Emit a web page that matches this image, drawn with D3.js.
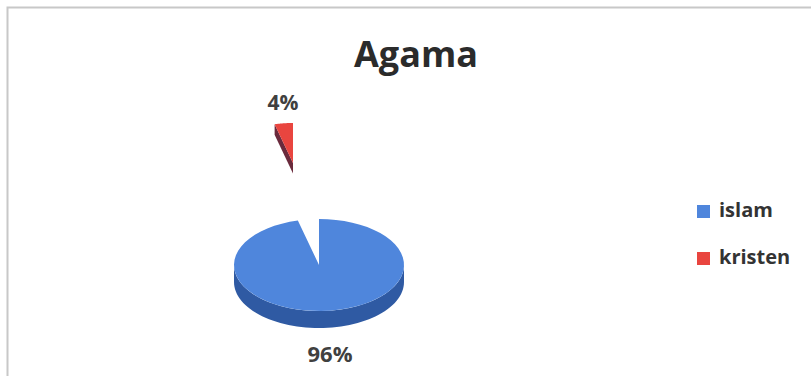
<!DOCTYPE html>
<html><head><meta charset="utf-8">
<script src="https://cdn.jsdelivr.net/npm/d3@7"></script>
<style>body{margin:0;background:#fff}svg{display:block}</style>
</head><body><svg id="c" width="811" height="376"></svg>
<script>
const categories = ["islam", "kristen"];
const values = [96, 4];
const labels = ["96%", "4%"];
const topColors = ["#4f86dc", "#e9453f"];
const sideColors = ["#2f5aa3", "#6a2a3c"];
const title = "Agama";

const svg = d3.select("#c");
const font = "'Open Sans', Lato, sans-serif";

// frame
svg.append("path").attr("d", "M7.5,376 L7.5,7.5 L811,7.5").attr("fill","none").attr("stroke","#c8c8c8").attr("stroke-width",2);

svg.append("text").attr("x", 416).attr("y", 67).attr("text-anchor","middle")
  .attr("font-family", font).attr("font-weight", 700).attr("font-size", 36).attr("fill", "#2b2b2b").text(title);

const cx = 319, cy = 265, rx = 85, ry = 46, depth = 17;
const pie = d3.pie().sort(null).value(d => d)(values);
const pt = a => [rx * Math.sin(a), -ry * Math.cos(a)];
const line = d3.line();
const offsets = [[0, 0], [-26, -102]];
const scales = [1, 0.87];
const depths = [depth, 12];

function sample(a0, a1, n = 60) {
  return d3.range(n + 1).map(i => a0 + (a1 - a0) * i / n);
}

pie.forEach((s, i) => {
  const [ox, oy] = offsets[i];
  const g = svg.append("g").attr("transform", `translate(${cx + ox},${cy + oy}) scale(${scales[i]})`);
  const d = depths[i];
  let a0 = s.startAngle, a1 = s.endAngle;
  if (i === 1) { a0 -= 2 * Math.PI; a1 -= 2 * Math.PI; }
  const front0 = Math.max(a0, Math.PI / 2), front1 = Math.min(a1, 3 * Math.PI / 2);
  if (front1 > front0) {
    const arcTop = sample(front0, front1).map(pt);
    const arcBot = arcTop.slice().reverse().map(p => [p[0], p[1] + d]);
    g.append("path").attr("d", line(arcTop.concat(arcBot)) + "Z").attr("fill", sideColors[i]);
  }
  if (i === 1) {
    const p = pt(a0);
    g.append("path").attr("d", line([[0,0], p, [p[0], p[1] + d], [0, d]]) + "Z").attr("fill", sideColors[i]);
  }
  const top = [[0, 0]].concat(sample(a0, a1).map(pt));
  g.append("path").attr("d", line(top) + "Z").attr("fill", topColors[i]);
});

// data labels
svg.append("text").attr("x", 330).attr("y", 362).attr("text-anchor","middle")
  .attr("font-family", font).attr("font-weight", 700).attr("font-size", 22).attr("fill", "#404040").text(labels[0]);
svg.append("text").attr("x", 283).attr("y", 110).attr("text-anchor","middle")
  .attr("font-family", font).attr("font-weight", 700).attr("font-size", 21).attr("fill", "#404040").text(labels[1]);

// legend
const ly = d3.scalePoint().domain(categories).range([211, 258]);
categories.forEach((c, i) => {
  svg.append("rect").attr("x", 697).attr("y", ly(c) - 6).attr("width", 13).attr("height", 13).attr("fill", topColors[i]);
  svg.append("text").attr("x", 719).attr("y", ly(c) + 6).attr("font-family", font).attr("font-weight", 700)
    .attr("font-size", 20).attr("fill", "#333").text(c);
});
</script></body></html>
